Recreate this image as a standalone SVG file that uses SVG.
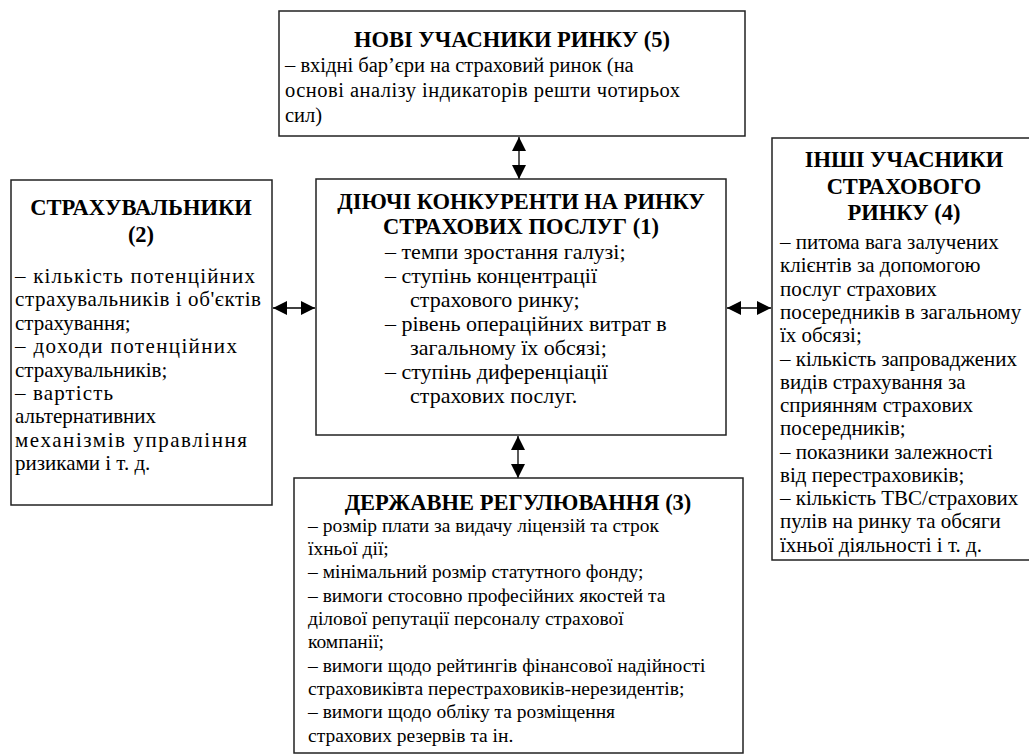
<svg xmlns="http://www.w3.org/2000/svg" width="1029" height="756" viewBox="0 0 1029 756">
<style>
.box{fill:#fff;stroke:#222;stroke-width:1.5}
.t{font-family:"Liberation Serif","Times New Roman",serif;font-size:22.5px;font-weight:bold;text-anchor:middle;fill:#000}
.b{font-family:"Liberation Serif","Times New Roman",serif;font-size:20.5px;fill:#000}
.bl{font-family:"Liberation Serif","Times New Roman",serif;font-size:21px;fill:#000}
.bc{font-family:"Liberation Serif","Times New Roman",serif;font-size:22px;fill:#000}
.bs{font-family:"Liberation Serif","Times New Roman",serif;font-size:19.5px;fill:#000}
.c{stroke:#000;stroke-width:1.3;fill:none;marker-start:url(#ah);marker-end:url(#ah)}
</style>
<defs>
<marker id="ah" viewBox="0 0 10 10" refX="10" refY="5" markerUnits="userSpaceOnUse" markerWidth="14" markerHeight="14" orient="auto-start-reverse">
<path d="M0,0 L10,5 L0,10 z" fill="#000"/>
</marker>
</defs>
<rect width="1029" height="756" fill="#fff"/>
<g id="connectors">
<line class="c" x1="519" y1="137" x2="519" y2="179"/>
<line class="c" x1="273" y1="308" x2="315" y2="308"/>
<line class="c" x1="727" y1="308" x2="771" y2="308"/>
<line class="c" x1="518" y1="436" x2="518" y2="478"/>
</g>
<g id="node5">
<rect class="box" x="279" y="11" width="466" height="125"/>
<text class="t" x="512" y="47">НОВІ УЧАСНИКИ РИНКУ (5)</text>
<text class="b" x="285" y="72">– вхідні бар’єри на страховий ринок (на</text>
<text class="b" x="285" y="97" textLength="395" lengthAdjust="spacing">основі аналізу індикаторів решти чотирьох</text>
<text class="b" x="285" y="122">сил)</text>
</g>
<g id="node2">
<rect class="box" x="11" y="180" width="261" height="325"/>
<text class="t" x="141" y="215">СТРАХУВАЛЬНИКИ</text>
<text class="t" x="141" y="242">(2)</text>
<text class="bl" x="15" y="283" textLength="240" lengthAdjust="spacing">– кількість потенційних</text>
<text class="bl" x="15" y="306" textLength="246" lengthAdjust="spacing">страхувальників і об'єктів</text>
<text class="bl" x="15" y="330">страхування;</text>
<text class="bl" x="15" y="353" textLength="222" lengthAdjust="spacing">– доходи потенційних</text>
<text class="bl" x="15" y="377">страхувальників;</text>
<text class="bl" x="15" y="400" textLength="98" lengthAdjust="spacing">– вартість</text>
<text class="bl" x="15" y="423">альтернативних</text>
<text class="bl" x="15" y="447" textLength="232" lengthAdjust="spacing">механізмів управління</text>
<text class="bl" x="15" y="470">ризиками і т. д.</text>
</g>
<g id="node1">
<rect class="box" x="316" y="179" width="410" height="256"/>
<text class="t" x="521" y="209">ДІЮЧІ КОНКУРЕНТИ НА РИНКУ</text>
<text class="t" x="521" y="234">СТРАХОВИХ ПОСЛУГ (1)</text>
<text class="bc" x="385" y="259">– темпи зростання галузі;</text>
<text class="bc" x="385" y="283">– ступінь концентрації</text>
<text class="bc" x="410" y="307">страхового ринку;</text>
<text class="bc" x="385" y="331">– рівень операційних витрат в</text>
<text class="bc" x="410" y="355">загальному їх обсязі;</text>
<text class="bc" x="385" y="379">– ступінь диференціації</text>
<text class="bc" x="410" y="403">страхових послуг.</text>
</g>
<g id="node4">
<rect class="box" x="772" y="138" width="262" height="422"/>
<text class="t" x="904" y="167">ІНШІ УЧАСНИКИ</text>
<text class="t" x="904" y="194">СТРАХОВОГО</text>
<text class="t" x="904" y="220">РИНКУ (4)</text>
<text class="bl" x="780" y="249">– питома вага залучених</text>
<text class="bl" x="780" y="272">клієнтів за допомогою</text>
<text class="bl" x="780" y="296">послуг страхових</text>
<text class="bl" x="780" y="319">посередників в загальному</text>
<text class="bl" x="780" y="342">їх обсязі;</text>
<text class="bl" x="780" y="366">– кількість запроваджених</text>
<text class="bl" x="780" y="389">видів страхування за</text>
<text class="bl" x="780" y="412">сприянням страхових</text>
<text class="bl" x="780" y="435">посередників;</text>
<text class="bl" x="780" y="459">– показники залежності</text>
<text class="bl" x="780" y="482">від перестраховиків;</text>
<text class="bl" x="780" y="505">– кількість ТВС/страхових</text>
<text class="bl" x="780" y="528">пулів на ринку та обсяги</text>
<text class="bl" x="780" y="552">їхньої діяльності і т. д.</text>
</g>
<g id="node3">
<rect class="box" x="294" y="478" width="449" height="275"/>
<text class="t" x="518" y="510">ДЕРЖАВНЕ РЕГУЛЮВАННЯ (3)</text>
<text class="bs" x="308" y="532">– розмір плати за видачу ліцензій та строк</text>
<text class="bs" x="308" y="555">їхньої дії;</text>
<text class="bs" x="308" y="578">– мінімальний розмір статутного фонду;</text>
<text class="bs" x="308" y="602">– вимоги стосовно професійних якостей та</text>
<text class="bs" x="308" y="625">ділової репутації персоналу страхової</text>
<text class="bs" x="308" y="648">компанії;</text>
<text class="bs" x="308" y="672">– вимоги щодо рейтингів фінансової надійності</text>
<text class="bs" x="308" y="695">страховиківта перестраховиків-нерезидентів;</text>
<text class="bs" x="308" y="718">– вимоги щодо обліку та розміщення</text>
<text class="bs" x="308" y="742">страхових резервів та ін.</text>
</g>
</svg>
